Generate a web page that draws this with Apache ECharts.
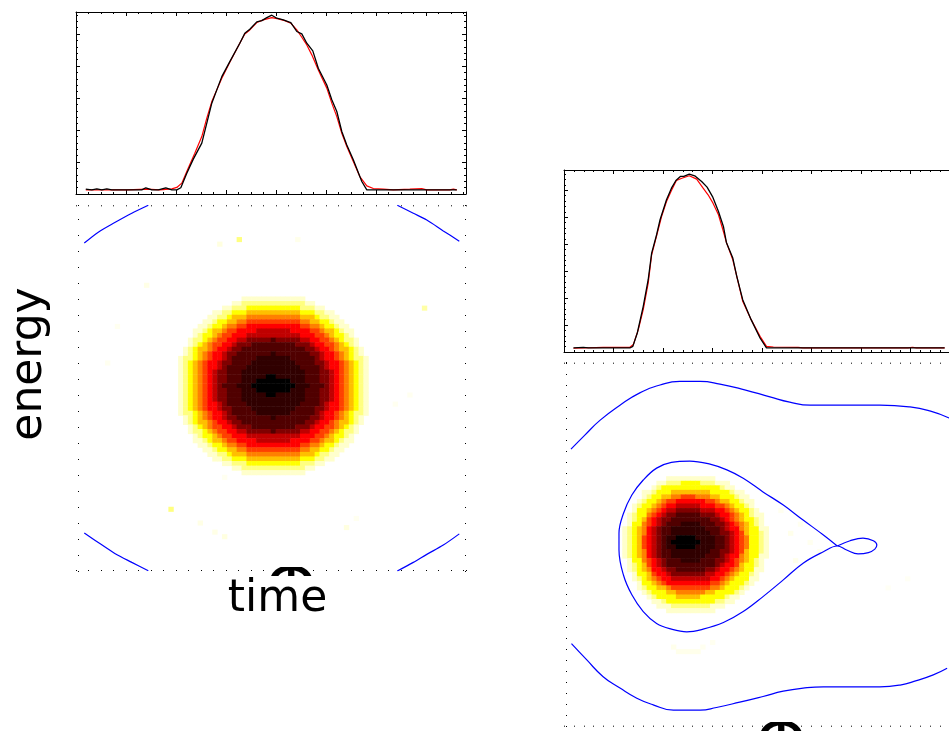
<!DOCTYPE html>
<html><head><meta charset="utf-8">
<style>html,body{margin:0;padding:0;background:#fff;overflow:hidden}#c{width:960px;height:731px}</style>
<script src="https://cdn.jsdelivr.net/npm/echarts@6/dist/echarts.min.js"></script>
</head><body><div id="c"></div>
<script>
// ---- profile curves (time, normalised density) ----
const leftBlackTime=[-3.73,-3.61,-3.51,-3.41,-3.31,-3.21,-2.85,-2.81,-2.75,-2.61,-2.53,-2.41,-2.28,-2.13,-2.01,-1.91,-1.83,-1.71,-1.58,-1.41,-1.31,-1.21,-1.11,-1.01,-0.85,-0.65,-0.55,-0.45,-0.31,-0.21,-0.11,-0.01,0.09,0.22,0.37,0.49,0.59,0.69,0.81,0.92,1.09,1.19,1.29,1.39,1.49,1.62,1.79,1.89,2.42,3.69];
const leftBlackValue=[.006,.002,.008,.002,.008,.002,.002,.006,.002,.002,.015,.002,.002,.015,.002,.002,.015,.106,.194,.294,.419,.544,.627,.710,.804,.919,.981,1.006,1.052,1.060,1.079,1.094,1.075,1.065,1.048,.992,.977,.919,.871,.762,.658,.565,.492,.367,.283,.190,.054,.002,.002,.002];
const leftRedTime=[-3.73,-3.38,-2.91,-2.51,-2.25,-2.01,-1.91,-1.81,-1.68,-1.55,-1.41,-1.31,-1.21,-1.11,-1.01,-.85,-.65,-.55,-.45,-.31,-.18,-.01,.12,.25,.37,.49,.59,.69,.79,.92,1.09,1.19,1.29,1.39,1.49,1.62,1.75,1.89,2.02,2.22,2.42,2.75,2.99,3.09,3.55,3.62,3.69];
const leftRedValue=[.002,.002,.002,.006,.002,.008,.017,.044,.138,.231,.335,.450,.554,.627,.700,.800,.919,.977,1.002,1.048,1.065,1.079,1.071,1.060,1.044,1.002,.956,.908,.846,.752,.638,.544,.460,.356,.273,.179,.085,.027,.010,.006,.002,.006,.010,.002,.002,.006,.002];
const rightBlackTime=[-2.34,-2.14,-2.04,-1.20,-1.14,-1.05,-.93,-.83,-.76,-.66,-.59,-.46,-.36,-.27,-.18,-.11,0,.11,.25,.36,.47,.59,.69,.75,.88,.96,1.08,1.25,1.43,1.56,1.90,5.16];
const rightBlackValue=[0,.005,0,0,.012,.111,.309,.506,.704,.840,.951,1.099,1.185,1.242,1.272,1.272,1.289,1.277,1.235,1.193,1.123,1.012,.901,.783,.667,.531,.358,.210,.074,0,0,0];
const rightRedTime=[-2.34,-1.74,-1.20,-1.13,-1.03,-.93,-.83,-.76,-.66,-.56,-.46,-.36,-.26,-.15,0,.15,.28,.38,.48,.59,.69,.75,.88,.96,1.08,1.25,1.43,1.56,1.70,2.20,2.30,4.42,4.51,4.59,5.16];
const rightRedValue=[-.002,.005,.005,.025,.136,.284,.481,.691,.832,.975,1.086,1.168,1.242,1.259,1.277,1.252,1.185,1.136,1.074,.988,.864,.783,.654,.531,.346,.210,.086,.012,.007,.005,0,0,.005,0,0];
// ---- blue contour segments, left panel (time, energy) ----
const arcLeftTime=[-3.76,-3.48,-3.15,-2.81,-2.48];
const arcRightTime=[2.50,2.82,3.09,3.42,3.74];
const arcTopLeftEnergy=[4.53,4.87,5.17,5.46,5.71];
const arcTopRightEnergy=[5.71,5.46,5.25,4.91,4.59];
const arcBottomLeftEnergy=[-4.53,-4.83,-5.17,-5.45,-5.71];
const arcBottomRightEnergy=[-5.72,-5.45,-5.20,-4.91,-4.56];
// ---- blue contours, right panel (time, energy) ----
const outerTopTime=[-2.39,-2.11,-1.80,-1.40,-1.00,-.59,-.19,.22,.62,1.12,1.63,2.03,2.44,3.04,3.85,4.46,4.86,5.25];
const outerTopEnergy=[2.20,2.52,2.86,3.20,3.48,3.66,3.74,3.74,3.68,3.55,3.39,3.27,3.20,3.20,3.20,3.16,3.07,2.91];
const outerBottomTime=[-2.38,-2.07,-1.74,-1.40,-1.06,-.73,-.32,.22,.55,1.02,1.49,1.90,2.30,2.71,3.85,4.26,4.59,4.93,5.21];
const outerBottomEnergy=[-2.22,-2.59,-2.97,-3.23,-3.46,-3.61,-3.73,-3.73,-3.67,-3.55,-3.42,-3.30,-3.23,-3.20,-3.20,-3.16,-3.06,-2.93,-2.78];
const separatrixTime=[2.99,2.71,2.30,1.90,1.49,1.09,.76,.42,.01,-.36,-.66,-.93,-1.16,-1.33,-1.42,-1.42,-1.33,-1.16,-.93,-.66,-.36,-.05,.28,.69,1.09,1.49,1.90,2.30,2.71,2.99,3.18,3.41,3.62,3.75,3.79,3.72,3.51,3.25,2.99];
const separatrixEnergy=[0,.25,.59,.93,1.23,1.54,1.73,1.86,1.93,1.90,1.77,1.50,1.16,.74,.29,-.09,-.66,-1.11,-1.49,-1.76,-1.89,-1.95,-1.89,-1.74,-1.49,-1.15,-.77,-.39,-.13,0,-.09,-.18,-.15,-.07,.02,.12,.18,.12,0];
// ---- phase-space density, one character per cell (0 white ... c black) ----
const leftBlobFirstColumn=20, leftBlobTopRow=59;
const leftBlobRows=[
"00000000000000111111111111100000000000000",
"00000000000011222222222222211000000000000",
"00000000001122233333333333222110000000000",
"00000000112233344444444444333221100000000",
"00000001122344455555555555444322110000000",
"00000011233445566666666666554433211000000",
"00000112334556677777777777665543321100000",
"00001123445667777888888877776654432110000",
"00001233456677788888888888777665433210000",
"00012234566778899999a99999887766543221000",
"0001234566778999aaaaaaaaa9998776654321000",
"00123445677899aaaaaaaaaaaaa99877654432100",
"0012345677899aaaaaaabaaaaaaa9987765432100",
"012234567789aaaaabbbbbbbaaaaa987765432210",
"012345677899aaaabbbbbbbbbaaaa998776543210",
"01234567789aaaabbbbbbbbbbbaaaa98776543210",
"01234567899aaabbbbbbbbbbbbbaaa99876543210",
"01234567899aaabbbbbccbbbbbbaaa99876543210",
"01234567899aaabbbcccccccbbbaaa99876543210",
"0123456789aaabbbcccccccccbbbaaa9876543210",
"01234567899aaabbbcccccccbbbaaa99876543210",
"01234567899aaabbbbbccbbbbbbaaa99876543210",
"01234567899aaabbbbbbbbbbbbbaaa99876543210",
"01234567789aaaabbbbbbbbbbbaaaa98776543210",
"012345677899aaaabbbbbbbbbaaaa998776543210",
"012234567789aaaaabbbbbbbaaaaa987765432210",
"0012345677899aaaaaaabaaaaaaa9987765432100",
"00123445677899aaaaaaaaaaaaa99877654432100",
"0001234566778999aaaaaaaaa9998776654321000",
"00012234566778899999a99999887766543221000",
"00001233456677788888888888777665433210000",
"00001123445667777888888877776654432110000",
"00000112334556677777777777665543321100000",
"00000011233445566666666666554433211000000",
"00000001122344455555555555444322110000000",
"00000000112233344444444444333221100000000",
"00000000001122233333333333222110000000000",
"00000000000011222222222222211000000000000",
"00000000000000111111111111100000000000000"];
const rightBlobFirstColumn=11, rightBlobTopRow=54;
const rightBlobRows=[
"00000000001111111111000000000000",
"00000000112223333222111000000000",
"00000001233333333333321100000000",
"00000112333444444443333211000000",
"00000123344556665554433321100000",
"00001233456677777766544332110000",
"00012334567788888777665433210000",
"00013345678899999888776543321000",
"001233567899aaaaa999877654321100",
"00123467899aaaaaaaa9987654332100",
"0013356789aaabbbbaaa998765432100",
"012345789aabbbbbbbaaa98775433110",
"012345789aabbbbbbbbaa99876433210",
"012346789abbccccbbbbaa9876533210",
"012346789abccccccbbbaa9876533210",
"012346789abbccccbbbbaa9876533210",
"012345789aabbbbbbbbaa99876433210",
"012345789aabbbbbbbaaa98775433110",
"0013356789aaabbbbaaa998765432100",
"0012346789aaaaaaaaaa987764332100",
"001234577899aaaaaa99877654331100",
"00013346778999999988776543321000",
"00012345677888888887765433311000",
"00001334567777777776654333210000",
"00001233445666666665543332100000",
"00000123334455555544333321000000",
"00000012333344444333332110000000",
"00000001123333333333221100000000",
"00000000111222222221110000000000",
"00000000001111111111000000000000"];
// isolated faint cells [column, rowFromBottom, level]
const leftSpecks=[[33,72,2],[29,71,.6],[45,72,.4],[19,13,2],[25,10,.5],[28,8,.5],[30,7,.6],[71,57,1.5],[55,9,.6],[57,11,.3],[14,62,.5],[8,53,.3],[6,45,.3],[65,36,.3],[68,38,.3],[30,20,.3]];
const rightSpecks=[[46,42,.4],[48,44,.3],[50,40,.3],[52,38,.3],[47,36,.4],[44,47,.3],[22,17,.4],[23,16,.4],[24,16,.4],[25,16,.4],[26,16,.4],[27,16,.4],[28,17,.3],[30,18,.3],[66,30,.2],[70,32,.2]];
const levelColors=['#ffffff','#ffffcc','#ffff80','#ffff00','#ffbf00','#ff8000','#ff4000','#ff0000','#c00000','#800000','#500000','#300000','#000000'];
const cellCount=80;
const categories=[];for(let i=0;i<cellCount;i++)categories.push(String(i));
// ---- axis extents and labels ----
const leftTimeRange=[-3.926,3.874], rightTimeRange=[-2.531,5.349];
const leftProfileRange=[-.024,1.114], rightProfileRange=[-.03,1.32];
const leftEnergyRange=[-5.72,5.71], rightEnergyRange=[-4.107,4.166];
const timeLabel='time', energyLabel='energy', cutGlyph='\u03A6';

function zip(a,b){return a.map((v,i)=>[v,b[i]]);}
function cells(rows,firstCol,topRow,extra){
  const out=[];
  rows.forEach((r,i)=>{for(let j=0;j<r.length;j++){const l=parseInt(r[j],16);if(l>0)out.push([firstCol+j,topRow-i,l]);}});
  return out.concat(extra);
}
const hidden={show:false};
const grids=[
 {left:76,top:12,width:390,height:182},
 {left:76,top:205.3,width:390,height:365.7},
 {left:76,top:205.3,width:390,height:365.7},
 {left:564,top:170,width:390,height:182},
 {left:564,top:362.7,width:390,height:364},
 {left:564,top:362.7,width:390,height:364}
];
const xAxis=[],yAxis=[];
function frameAxes(g,xr,yr,xi,xs,yi,ys){
  const tick={show:true,inside:true,length:4,lineStyle:{color:'#000',width:1}};
  const minor=(n)=>({show:true,splitNumber:n,length:2,lineStyle:{color:'#000',width:1}});
  const line={show:true,onZero:false,lineStyle:{color:'#000',width:1}};
  ['bottom','top'].forEach(p=>xAxis.push({type:'value',gridIndex:g,position:p,min:xr[0],max:xr[1],interval:xi,axisLine:line,axisTick:tick,minorTick:minor(xs),axisLabel:hidden,splitLine:hidden,minorSplitLine:hidden}));
  ['left','right'].forEach(p=>yAxis.push({type:'value',gridIndex:g,position:p,min:yr[0],max:yr[1],interval:yi,axisLine:line,axisTick:tick,minorTick:minor(ys),axisLabel:hidden,splitLine:hidden,minorSplitLine:hidden}));
}
function catAxes(g){
  xAxis.push({type:'category',gridIndex:g,data:categories,show:false});
  yAxis.push({type:'category',gridIndex:g,data:categories,show:false});
}
function dotAxes(g,xr,yr,xi,yi){
  const tick={show:true,inside:true,length:1,lineStyle:{color:'#000',width:1}};
  const line={show:false,onZero:false};
  ['bottom','top'].forEach(p=>xAxis.push({type:'value',gridIndex:g,position:p,min:xr[0],max:xr[1],interval:xi,axisLine:line,axisTick:tick,axisLabel:hidden,splitLine:hidden}));
  ['left','right'].forEach(p=>yAxis.push({type:'value',gridIndex:g,position:p,offset:p==='left'?-2:0,min:yr[0],max:yr[1],interval:yi,axisLine:line,axisTick:tick,axisLabel:hidden,splitLine:hidden}));
}
// indices: 0,1 profile; 2 cat; 3,4 dots; 5,6 profile; 7 cat; 8,9 dots
frameAxes(0,leftTimeRange,leftProfileRange,1,4,.2,5);
catAxes(1);
dotAxes(2,leftTimeRange,leftEnergyRange,.25,.5);
frameAxes(3,rightTimeRange,rightProfileRange,1,5,.2,5);
catAxes(4);
dotAxes(5,rightTimeRange,rightEnergyRange,.2,.25);

function curve(ax,ay,data,color,z,smooth,w){
  return {type:'line',xAxisIndex:ax,yAxisIndex:ay,data,showSymbol:false,symbol:'none',smooth:smooth||false,z,
    lineStyle:{color,width:w||1.2},itemStyle:{color},silent:true};
}
const series=[
 {type:'heatmap',xAxisIndex:2,yAxisIndex:2,data:cells(leftBlobRows,leftBlobFirstColumn,leftBlobTopRow,leftSpecks),progressive:0,silent:true},
 {type:'heatmap',xAxisIndex:7,yAxisIndex:7,data:cells(rightBlobRows,rightBlobFirstColumn,rightBlobTopRow,rightSpecks),progressive:0,silent:true},
 curve(0,0,zip(leftRedTime,leftRedValue),'#ff0000',3),
 curve(0,0,zip(leftBlackTime,leftBlackValue),'#000000',4,false,1.3),
 curve(5,5,zip(rightRedTime,rightRedValue),'#ff0000',3),
 curve(5,5,zip(rightBlackTime,rightBlackValue),'#000000',4,false,1.3),
 curve(3,3,zip(arcLeftTime,arcTopLeftEnergy),'#0000ff',5,.3),
 curve(3,3,zip(arcRightTime,arcTopRightEnergy),'#0000ff',5,.3),
 curve(3,3,zip(arcLeftTime,arcBottomLeftEnergy),'#0000ff',5,.3),
 curve(3,3,zip(arcRightTime,arcBottomRightEnergy),'#0000ff',5,.3),
 curve(8,8,zip(outerTopTime,outerTopEnergy),'#0000ff',5,.5),
 curve(8,8,zip(outerBottomTime,outerBottomEnergy),'#0000ff',5,.5),
 curve(8,8,zip(separatrixTime,separatrixEnergy),'#0000ff',5,.4)
];
const chart=echarts.init(document.getElementById('c'),null,{renderer:'canvas'});
chart.setOption({
 animation:false,backgroundColor:'#ffffff',
 grid:grids,xAxis,yAxis,series,
 visualMap:{show:false,type:'continuous',seriesIndex:[0,1],min:0,max:12,dimension:2,inRange:{color:levelColors}},
 graphic:[
  {type:'text',z:20,left:266,top:558,style:{text:cutGlyph,font:'64px "DejaVu Sans"',fill:'#000'}},
  {type:'text',z:20,left:756,top:713,style:{text:cutGlyph,font:'64px "DejaVu Sans"',fill:'#000'}},
  {type:'rect',z:21,shape:{x:262,y:555,width:62,height:12},style:{fill:'#fff'}},
  {type:'rect',z:21,shape:{x:752,y:708,width:62,height:14},style:{fill:'#fff'}},
  {type:'rect',z:21,shape:{x:262,y:576,width:62,height:50},style:{fill:'#fff'}},
  {type:'text',z:22,x:277.5,y:600,style:{text:timeLabel,font:'44px "DejaVu Sans"',fill:'#000',align:'center',verticalAlign:'middle'}},
  {type:'text',z:22,x:30,y:364,rotation:Math.PI/2,style:{text:energyLabel,font:'44px "DejaVu Sans"',fill:'#000',align:'center',verticalAlign:'middle'}}
 ]
});
</script></body></html>
